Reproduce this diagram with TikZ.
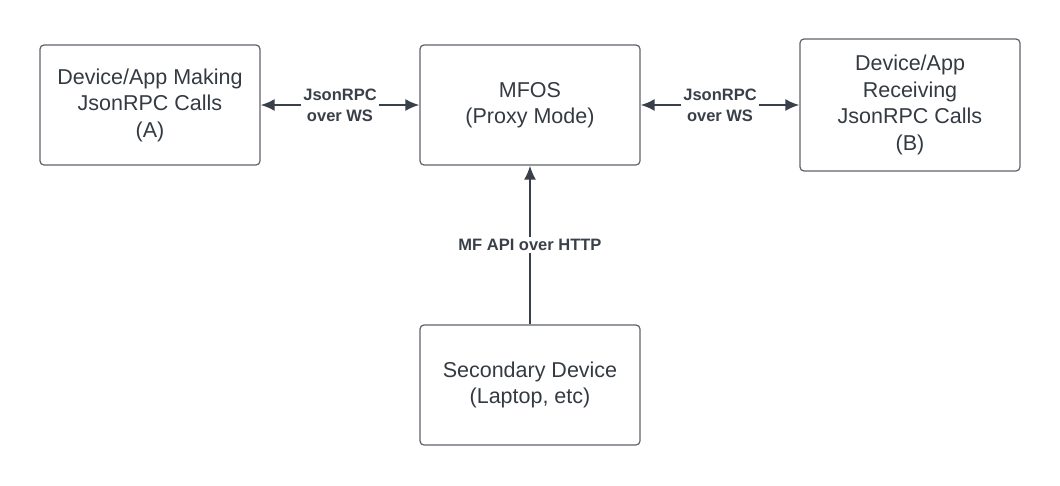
\documentclass[tikz,border=0pt]{standalone}
\usepackage{fontspec}
\setmainfont{Liberation Sans}
\usetikzlibrary{arrows.meta}
\definecolor{boxline}{HTML}{5E6268}
\definecolor{boxtext}{HTML}{343A42}
\definecolor{linkline}{HTML}{3A4049}

\begin{document}
\begin{tikzpicture}[x=1pt, y=-1pt,
    box/.style={draw=boxline, line width=1.2pt, rounded corners=4pt, minimum width=220pt, minimum height=120pt,
        align=center, text=boxtext, font=\fontsize{21.5}{26.5}\selectfont},
    link/.style={linkline, line width=2pt},
    tip/.tip={Latex[length=14pt, width=12pt]},
    linklabel/.style={fill=white, text=linkline, align=center, inner sep=2pt, font=\bfseries\fontsize{16.5}{21}\selectfont}]
        \useasboundingbox (0,0) rectangle (1060,485);
        % boxes
        \node[box] (devA) at (150,105) {Device/App Making\\JsonRPC Calls\\(A)};
        \node[box] (mfos) at (530,105) {MFOS\\(Proxy Mode)};
        \node[box, minimum height=132pt] (devB) at (910,105) {Device/App\\Receiving\\JsonRPC Calls\\(B)};
        \node[box] (second) at (530,385) {Secondary Device\\(Laptop, etc)};
        % connectors
        \draw[link, tip-tip] (devA.east) -- node[linklabel] (wsA) {JsonRPC\\over WS} (mfos.west);
        \draw[link, tip-tip] (mfos.east) -- node[linklabel] (wsB) {JsonRPC\\over WS} (devB.west |- mfos.east);
        \draw[link, -tip] (second.north) -- node[linklabel] (http) {MF API over HTTP} (mfos.south);
\end{tikzpicture}
\end{document}
